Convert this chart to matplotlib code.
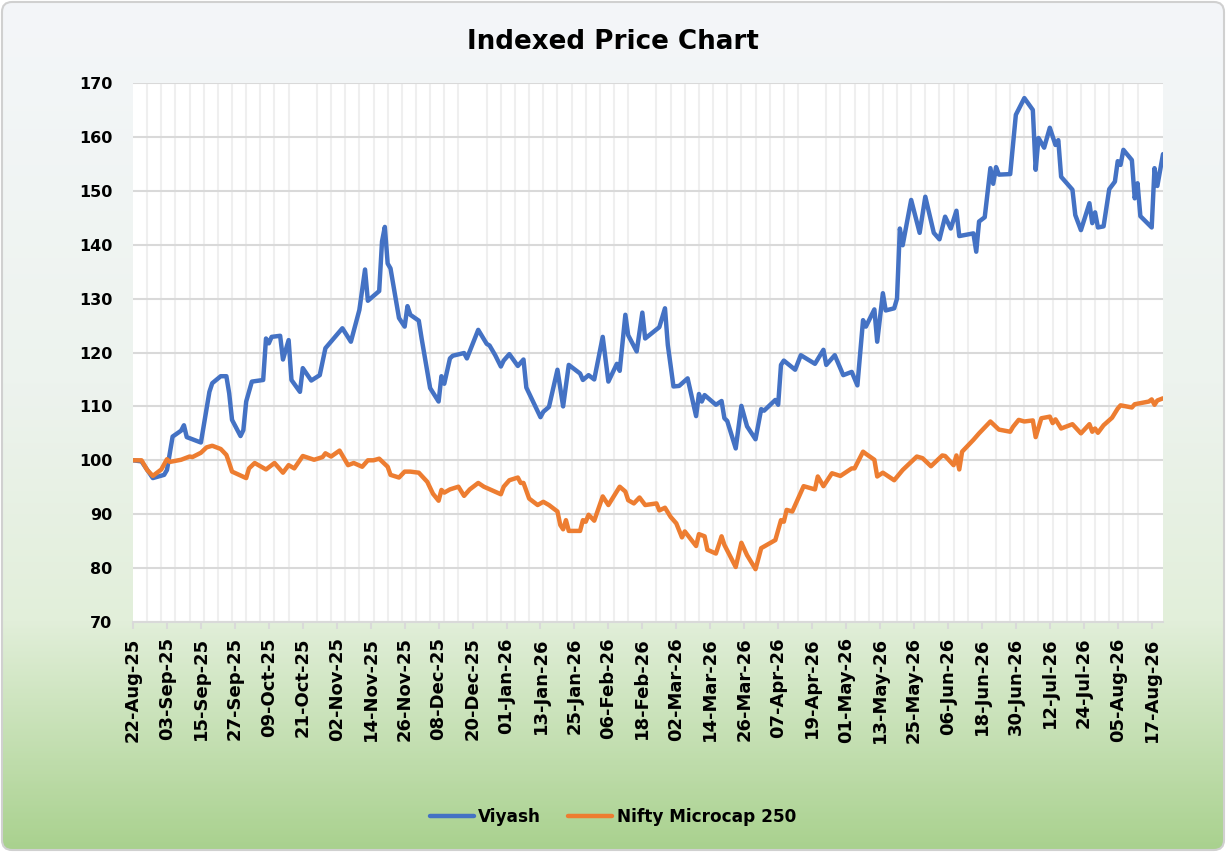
import numpy as np
import pandas as pd
import matplotlib
matplotlib.use("Agg")
import matplotlib.pyplot as plt
import matplotlib.dates as mdates
from matplotlib.patches import FancyBboxPatch
from matplotlib.colors import LinearSegmentedColormap

plt.rcParams['font.family'] = ['DejaVu Sans']

START = "2025-08-22"
END = "2026-08-21"

viyash_day = [0,3,7,11,12,14,17,18,19,21,24,27,28,31,33,34,35,38,39,40,42,46,47,48,49,52,53,55,56,59,60,63,66,68,74,77,80,82,83,87,88,89,90,91,94,96,97,98,101,102,105,108,109,110,112,113,117,118,122,125,126,128,130,131,133,136,138,139,140,144,145,147,150,152,154,158,159,161,163,166,168,171,172,174,175,178,180,181,186,188,189,191,193,196,199,200,201,202,206,208,209,210,213,215,217,220,222,223,227,228,229,230,234,236,241,244,245,248,251,254,256,258,259,262,263,265,266,269,270,271,272,275,278,280,283,285,287,289,291,292,297,298,299,301,303,304,305,306,310,312,315,318,319,320,322,324,326,327,328,331,332,333,335,338,339,340,341,343,345,347,348,349,350,353,354,355,356,360,361,362,364]
viyash_val = [100,99.8,96.7,97.3,98.2,104.4,105.5,106.5,104.3,103.9,103.3,112.7,114.3,115.6,115.6,112.4,107.5,104.5,105.6,110.9,114.6,114.9,122.6,121.7,122.9,123.1,118.7,122.3,114.9,112.7,117.1,114.8,115.8,120.8,124.5,122,127.9,135.4,129.6,131.4,140.6,143.3,136.5,135.6,126.4,124.8,128.6,127,125.9,122.6,113.4,110.9,115.6,114.2,118.9,119.4,119.9,118.9,124.2,121.6,121.3,119.5,117.4,118.5,119.7,117.5,118.7,113.5,112.4,108,109,109.9,116.8,110,117.7,116.1,114.9,115.8,115,122.9,114.6,117.9,116.6,127,123.2,120.2,127.4,122.6,124.7,128.2,121.4,113.7,113.8,115.2,108.2,112.3,110.9,112.1,110.3,111,107.8,107.3,102.2,110.1,106.3,103.9,109.5,109.2,111.2,110.3,117.7,118.5,116.8,119.5,117.9,120.5,117.7,119.5,115.8,116.4,113.9,126,124.8,128,122,131,127.8,128.2,130,143,139.9,148.3,142.2,148.9,142.2,141,145.2,143,146.3,141.6,142.1,138.7,144.3,145.1,154.2,151.3,154.4,153,153.1,164.1,167.2,165,153.9,159.8,158,161.7,158.5,159.4,152.6,150.8,150.2,145.5,142.7,147.7,144,146,143.2,143.4,150.3,151.7,155.5,154.8,157.6,155.7,148.6,151.4,145.3,143.2,154.2,150.9,156.8]

nifty_day = [0,3,5,7,10,12,13,17,20,21,24,26,28,31,33,34,35,40,41,43,45,47,50,51,53,55,57,60,64,67,68,70,73,76,78,81,83,85,87,90,91,94,96,98,101,104,106,108,109,110,112,115,117,119,122,124,130,131,133,136,137,138,140,143,145,147,150,151,152,153,154,158,159,160,161,163,166,168,172,174,175,177,179,181,185,186,188,190,192,194,195,199,200,202,203,206,208,209,213,215,217,220,222,224,227,229,230,231,233,237,241,242,244,247,250,254,255,258,259,262,263,265,269,272,273,277,279,282,286,287,290,291,292,293,295,297,299,303,306,310,311,313,315,318,319,321,324,325,326,328,332,335,338,339,340,341,343,346,348,349,353,354,359,360,361,362,364]
nifty_val = [100,100,98.2,97.1,98.3,100.2,99.7,100.1,100.7,100.6,101.4,102.4,102.7,102.1,101,99.5,97.9,96.7,98.5,99.5,98.9,98.3,99.5,98.9,97.7,99.1,98.5,100.8,100.1,100.6,101.3,100.7,101.8,99.1,99.5,98.8,100,100,100.3,98.8,97.3,96.8,97.9,97.9,97.7,96,93.8,92.5,94.5,94,94.6,95.1,93.4,94.6,95.8,95.1,93.7,95.1,96.3,96.8,95.8,95.8,92.9,91.7,92.3,91.7,90.5,88,87.2,88.9,86.9,86.9,88.9,88.6,89.9,88.8,93.3,91.7,95.1,94.2,92.6,92,93.1,91.7,92,90.7,91.2,89.5,88.3,85.7,86.8,84.1,86.3,85.9,83.4,82.7,85.9,84.3,80.2,84.7,82.4,79.8,83.7,84.3,85.2,88.9,88.6,90.8,90.5,95.2,94.6,97,95.2,97.6,97.1,98.5,98.5,101.6,101.2,100.1,97,97.7,96.3,98.2,98.7,100.7,100.4,98.9,100.9,100.8,99.1,100.9,98.3,101.6,102.7,103.8,105,107.2,105.7,105.3,106.2,107.5,107.2,107.4,104.3,107.8,108.1,106.9,107.6,105.9,106.7,105,106.7,105.3,105.9,105.1,106.5,107.9,109.6,110.2,109.8,110.4,110.9,111.3,110.3,111.1,111.5]

series_names = ["Viyash", "Nifty Microcap 250"]
series_colors = ["#4472C4", "#ED7D31"]
title = "Indexed Price Chart"
y_ticks = [70, 80, 90, 100, 110, 120, 130, 140, 150, 160, 170]

start = pd.Timestamp(START)
end = pd.Timestamp(END)
v_dates = start + pd.to_timedelta(viyash_day, unit="D")
n_dates = start + pd.to_timedelta(nifty_day, unit="D")

W, H = 1226, 852
fig = plt.figure(figsize=(W / 100, H / 100), dpi=100)
fig.patch.set_facecolor("white")

# background gradient with rounded border
bg = fig.add_axes([0, 0, 1, 1], zorder=-10)
bg.set_xlim(0, W)
bg.set_ylim(0, H)
bg.axis("off")
cmap = LinearSegmentedColormap.from_list(
    "bg",
    [(0.0, (169/255, 209/255, 142/255)),
     (0.27, (226/255, 239/255, 218/255)),
     (0.55, (237/255, 243/255, 238/255)),
     (1.0, (244/255, 246/255, 249/255))])
grad = np.linspace(0, 1, 400).reshape(-1, 1)
im = bg.imshow(grad, cmap=cmap, origin="lower", aspect="auto",
               extent=[0, W, 0, H], interpolation="bilinear")
border = FancyBboxPatch((2, 2), W - 4, H - 4,
                        boxstyle="round,pad=0,rounding_size=10",
                        facecolor="none", edgecolor="#D0D0D0", linewidth=1.5)
bg.add_patch(border)
im.set_clip_path(border)

# main axes
L, R, T, B = 133, 1163, 83, 622
ax = fig.add_axes([L / W, (H - B) / H, (R - L) / W, (B - T) / H])
ax.set_facecolor("white")

ax.plot(v_dates, viyash_val, color=series_colors[0], lw=3.2,
        solid_joinstyle="round", solid_capstyle="round", label=series_names[0], zorder=3)
ax.plot(n_dates, nifty_val, color=series_colors[1], lw=3.2,
        solid_joinstyle="round", solid_capstyle="round", label=series_names[1], zorder=3)

ax.set_xlim(start, end)
ax.set_ylim(y_ticks[0], y_ticks[-1])
ax.set_yticks(y_ticks)

major = pd.date_range(start, end, freq="12D")
minor = pd.date_range(start, end, freq="5D")
ax.set_xticks(major)
ax.set_xticks(minor, minor=True)
ax.xaxis.set_major_formatter(mdates.DateFormatter("%d-%b-%y"))

ax.grid(axis="y", which="major", color="#D9D9D9", lw=1.5, zorder=1)
ax.grid(axis="x", which="minor", color="#EFEFEF", lw=1.5, zorder=0)
ax.set_axisbelow(True)

for s in ["left", "right", "top"]:
    ax.spines[s].set_visible(False)
ax.spines["bottom"].set_color("#D9D9D9")
ax.spines["bottom"].set_linewidth(1.5)

ax.tick_params(axis="x", which="major", length=5, width=1.5, color="#D9D9D9",
               pad=6, labelsize=13, labelrotation=90)
ax.tick_params(axis="x", which="minor", length=0)
ax.tick_params(axis="y", length=0, pad=15, labelsize=11.5)
for lab in ax.get_xticklabels() + ax.get_yticklabels():
    lab.set_fontweight("bold")
    lab.set_color("black")

fig.text(613 / W, 1 - 42 / H, title, ha="center", va="center",
         fontsize=18.8, fontweight="bold", color="black")

leg = fig.legend(loc="center", bbox_to_anchor=(613 / W, 1 - 817 / H), ncol=2,
                 frameon=False, handlelength=2.6,
                 handletextpad=0.25, columnspacing=1.6,
                 prop={"weight": "bold", "size": 12.2})
for line in leg.get_lines():
    line.set_linewidth(3.2)
    line.set_solid_capstyle("round")

fig.savefig("out.png", dpi=100)
